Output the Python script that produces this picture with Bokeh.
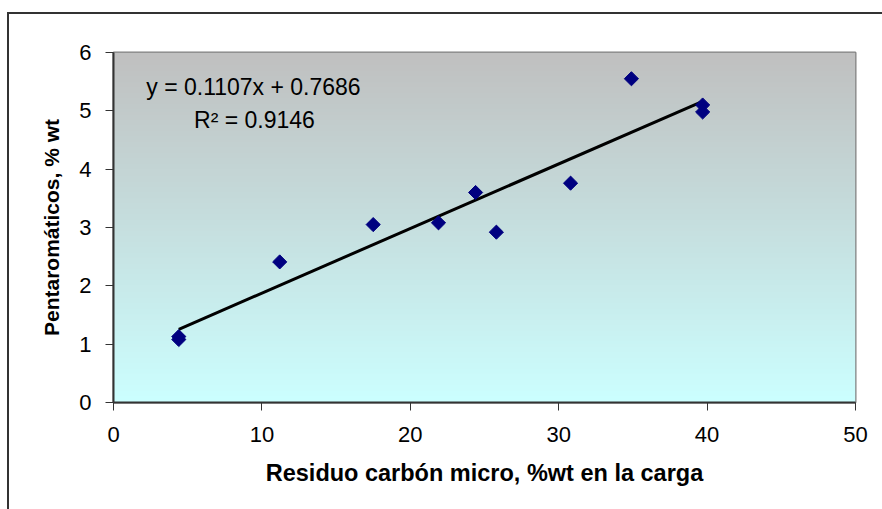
import numpy as np
from bokeh.plotting import figure
from bokeh.models import Range1d, Label, FixedTicker, InlineStyleSheet
from bokeh.embed import file_html
from bokeh.resources import INLINE

# Data
residuo = [4.4, 4.4, 11.2, 17.5, 21.9, 24.4, 25.8, 30.8, 34.9, 39.7, 39.7]
penta = [1.13, 1.08, 2.41, 3.05, 3.08, 3.60, 2.92, 3.76, 5.55, 5.10, 4.98]
slope = 0.1107
intercept = 0.7686
r2 = 0.9146
x_ticks = [0, 10, 20, 30, 40, 50]
y_ticks = [0, 1, 2, 3, 4, 5, 6]
x_title = "Residuo carbón micro, %wt en la carga"
y_title = "Pentaromáticos, % wt"

p = figure(width=882, height=509, output_backend="svg", toolbar_location=None,
           x_range=Range1d(0, 50), y_range=Range1d(0, 6),
           min_border_left=113, min_border_right=27, min_border_top=52, min_border_bottom=107)
p.background_fill_color = "#c0c0c0"
p.border_fill_color = "white"
p.outline_line_color = "#808080"
p.outline_line_width = 2
p.xgrid.visible = False
p.ygrid.visible = False

# outer chart border (top and left edges visible in the window)
p.stylesheets = [InlineStyleSheet(css="""
:host { position: relative; }
:host::after {
  content: ""; position: absolute; left: 7px; top: 12px; right: 0px; bottom: 0px;
  border-top: 2px solid #333333; border-left: 2px solid #333333;
  pointer-events: none; z-index: 10;
}
""")]

# gradient background (gray top -> light cyan bottom)
n = 256
top = np.array([192, 192, 192], dtype=float)
bot = np.array([204, 255, 255], dtype=float)
t = np.linspace(0, 1, n)[:, None]
cols = bot * (1 - t) + top * t
img = np.empty((n, 1), dtype=np.uint32)
view = img.view(dtype=np.uint8).reshape((n, 1, 4))
view[:, 0, 0] = cols[:, 0].astype(np.uint8)
view[:, 0, 1] = cols[:, 1].astype(np.uint8)
view[:, 0, 2] = cols[:, 2].astype(np.uint8)
view[:, 0, 3] = 255
p.image_rgba(image=[img], x=0, y=0, dw=50, dh=6)

# trend line
xmin, xmax = min(residuo), max(residuo)
p.line([xmin, xmax], [slope * xmin + intercept, slope * xmax + intercept],
       line_color="black", line_width=3)

p.scatter(residuo, penta, marker="square", angle=np.pi / 4, size=10,
          fill_color="#000080", line_color="#000080")

p.add_layout(Label(x=9.43, y=5.41, text=f"y = {slope}x + {intercept}",
                   text_align="center", text_baseline="middle",
                   text_font="Liberation Sans", text_font_size="23px", text_color="black"))
p.add_layout(Label(x=9.5, y=4.85, text=f"R² = {r2}",
                   text_align="center", text_baseline="middle",
                   text_font="Liberation Sans", text_font_size="23px", text_color="black"))

for ax in (p.xaxis[0], p.yaxis[0]):
    ax.axis_line_color = "#333333"
    ax.axis_line_width = 2
    ax.major_tick_line_color = "#333333"
    ax.major_tick_line_width = 1
    ax.major_tick_in = 0
    ax.major_tick_out = 8
    ax.minor_tick_line_color = None
    ax.major_label_text_font = "Liberation Sans"
    ax.major_label_text_font_size = "22px"
    ax.major_label_text_color = "black"
    ax.axis_label_text_font = "Liberation Sans"
    ax.axis_label_text_font_style = "bold"
    ax.axis_label_text_color = "black"

p.xaxis.ticker = FixedTicker(ticks=x_ticks)
p.yaxis.ticker = FixedTicker(ticks=y_ticks)
p.xaxis.axis_label = x_title
p.yaxis.axis_label = y_title
p.xaxis.axis_label_text_font_size = "23.5px"
p.yaxis.axis_label_text_font_size = "21px"
p.xaxis.major_label_standoff = 16
p.yaxis.major_label_standoff = 14
p.xaxis.axis_label_standoff = 15
p.yaxis.axis_label_standoff = 13

open("out.html", "w").write(file_html(p, INLINE))
